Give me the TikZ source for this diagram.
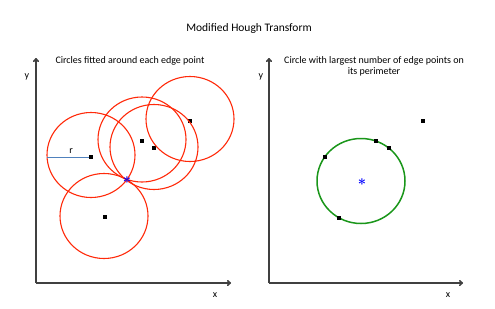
\documentclass[tikz,border=0pt]{standalone}
\usepackage{fontspec}
\setmainfont{Carlito}
\usepackage{tikz}
\usetikzlibrary{arrows.meta,positioning,calc}

\definecolor{axisgray}{HTML}{404040}
\definecolor{fitred}{HTML}{FF2A0A}
\definecolor{bestgreen}{HTML}{1A961A}
\definecolor{radblue}{HTML}{4F81BD}

\begin{document}
\begin{tikzpicture}[
                x=1pt, y=-1pt,
                font=\fontsize{10}{11.3}\selectfont,
                axis/.style={draw=axisgray, line width=1.5pt, -{To[length=4pt,width=6pt]}},
                edgept/.style={fill=black, inner sep=0pt, minimum size=4.5pt},
                fitcirc/.style={draw=fitred, line width=1.1pt},
                bestcirc/.style={draw=bestgreen, line width=1.5pt},
                centre/.style={text=blue, inner sep=0pt, font=\Large\boldmath},
                caption/.style={align=center}
            ]
            \useasboundingbox (0,0) rectangle (495,308);
            \node[font=\fontsize{11.5}{13}\selectfont] (title) at (249,28) {Modified Hough Transform};

            % left panel
            \coordinate (lorig) at (36,283);
            \coordinate (lytop) at (36,58);
            \coordinate (lxend) at (231,283);
            \draw[axis] (lorig) -- (lytop);
            \draw[axis] (lorig) -- (lxend);
            \node (ly) at (27,77) {y};
            \node (lx) at (215,295) {x};
            \node[caption] (lcap) at (130,61) {Circles fitted around each edge point};

            \node[edgept] (p1) at (91,157) {};
            \node[edgept] (p2) at (105,217) {};
            \node[edgept] (p3) at (142,141) {};
            \node[edgept] (p4) at (154,148) {};
            \node[edgept] (p5) at (190,121) {};
            \draw[fitcirc] (91,155) ellipse (44 and 42.5);
            \draw[fitcirc] (104,216) ellipse (44 and 42.5);
            \draw[fitcirc] (142,139.5) ellipse (44 and 42.5);
            \draw[fitcirc] (154,147) ellipse (44 and 42.5);
            \draw[fitcirc] (190,119) ellipse (44 and 42.5);
            \coordinate (redge) at (47,157);
            \draw[radblue, line width=1pt] (redge) -- (p1);
            \node (rlab) at (71,151) {r};
            \node[centre] (lstar) at (127,180) {$\ast$};

            % right panel
            \coordinate (rorig) at (269,283);
            \coordinate (rytop) at (269,58);
            \coordinate (rxend) at (463,283);
            \draw[axis] (rorig) -- (rytop);
            \draw[axis] (rorig) -- (rxend);
            \node (ry) at (261,77) {y};
            \node (rx) at (448,295) {x};
            \node[caption] (rcap) at (374,66.5) {Circle with largest number of edge points on\\its perimeter};

            \node[centre] (rstar) at (362,182) {$\ast$};
            \draw[bestcirc] (361,181) ellipse (44 and 42.5);
            \node[edgept] (q1) at (376,141) {};
            \node[edgept] (q2) at (389,148) {};
            \node[edgept] (q3) at (325,157) {};
            \node[edgept] (q4) at (339,218) {};
            \node[edgept] (q5) at (423,121) {};
        \end{tikzpicture}
\end{document}
